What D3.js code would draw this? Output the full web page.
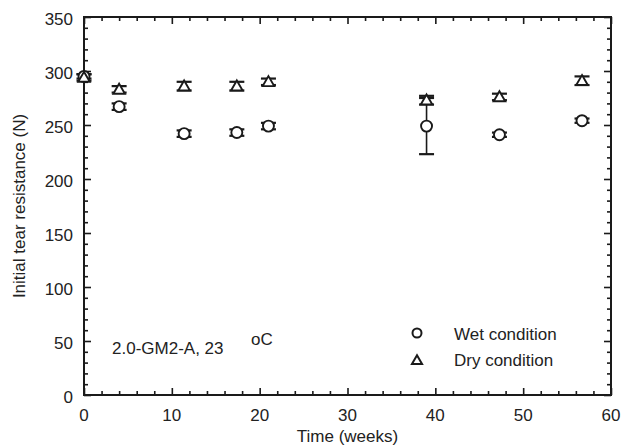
<!DOCTYPE html>
<html>
<head>
<meta charset="utf-8">
<script src="https://cdn.jsdelivr.net/npm/d3@7"></script>
<style>
  body { margin: 0; background: #fff; }
  svg text { font-family: "Liberation Sans", Arial, sans-serif; fill: #222; }
</style>
</head>
<body>
<svg id="chart" width="623" height="446"></svg>
<script>
// Ageing time (weeks) at each measurement
const weeks = [0, 4, 11.4, 17.4, 21, 39, 47.3, 56.7];
// Initial tear resistance (N), mean and standard deviation
const wetMean = [295, 267, 242, 243, 249, 249, 241, 254];
const wetErr  = [2, 3, 3, 3, 3, 26, 2, 2];
const dryMean = [294, 283, 286, 286, 290, 273, 276, 291];
const dryErr  = [3, 3, 4, 4, 3, 4, 3, 4];
const xTicks = [0, 10, 20, 30, 40, 50, 60];
const yTicks = [0, 50, 100, 150, 200, 250, 300, 350];
const seriesNames = ["Wet condition", "Dry condition"];

const svg = d3.select("#chart");
const plotL = 84, plotR = 611, plotT = 17, plotB = 395;
const fs = 17;

const x = d3.scaleLinear().domain([0, 60]).range([plotL, plotR]);
const y = d3.scaleLinear().domain([0, 350]).range([plotB, plotT]);

const ink = "#1a1a1a";
const g = svg.append("g");

// Inward ticks on all four sides
function tickAxis(axisFn, scale, transform, majors, minorStep, max) {
  const minors = d3.range(0, max + 0.001, minorStep).filter(v => !majors.includes(v));
  g.append("g").attr("transform", transform)
    .call(axisFn(scale).tickValues(minors).tickSize(-4).tickFormat(""))
    .call(s => s.select(".domain").remove());
  g.append("g").attr("transform", transform)
    .call(axisFn(scale).tickValues(majors).tickSize(-7).tickFormat(""))
    .call(s => s.select(".domain").remove());
}
tickAxis(d3.axisBottom, x, `translate(0,${plotB})`, xTicks, 2, 60);
tickAxis(d3.axisTop, x, `translate(0,${plotT})`, xTicks, 2, 60);
tickAxis(d3.axisLeft, y, `translate(${plotL},0)`, yTicks, 10, 350);
tickAxis(d3.axisRight, y, `translate(${plotR},0)`, yTicks, 10, 350);
g.selectAll(".tick line").attr("stroke", ink).attr("stroke-width", 1.6);

// Frame
g.append("rect").attr("x", plotL).attr("y", plotT)
  .attr("width", plotR - plotL).attr("height", plotB - plotT)
  .attr("fill", "none").attr("stroke", ink).attr("stroke-width", 2);

// Tick labels
g.selectAll(".xl").data(xTicks).enter().append("text")
  .attr("x", d => x(d)).attr("y", plotB + 26)
  .attr("text-anchor", "middle").attr("font-size", fs).text(d => d);
g.selectAll(".yl").data(yTicks).enter().append("text")
  .attr("x", plotL - 11).attr("y", d => y(d) + 8)
  .attr("text-anchor", "end").attr("font-size", fs).text(d => d);

// Axis titles
svg.append("text").attr("x", (plotL + plotR) / 2).attr("y", 442)
  .attr("text-anchor", "middle").attr("font-size", fs).text("Time (weeks)");
svg.append("text")
  .attr("transform", `translate(25,${(plotT + plotB) / 2}) rotate(-90)`)
  .attr("text-anchor", "middle").attr("font-size", fs)
  .text("Initial tear resistance (N)");

// Error bars and markers
const capHalf = 7.5;
function errorBars(means, errs) {
  const eg = g.append("g").attr("stroke", ink).attr("stroke-width", 1.6);
  weeks.forEach((w, i) => {
    const lo = y(means[i] - errs[i]), hi = y(means[i] + errs[i]);
    eg.append("line").attr("x1", x(w)).attr("x2", x(w)).attr("y1", lo).attr("y2", hi);
    [lo, hi].forEach(yy => eg.append("line")
      .attr("x1", x(w) - capHalf).attr("x2", x(w) + capHalf)
      .attr("y1", yy).attr("y2", yy).attr("stroke-width", 2.2));
  });
}
errorBars(wetMean, wetErr);
errorBars(dryMean, dryErr);

const tri = d3.symbol().type(d3.symbolTriangle).size(58);

g.selectAll(".wet").data(weeks).enter().append("circle")
  .attr("cx", d => x(d)).attr("cy", (d, i) => y(wetMean[i])).attr("r", 5.5)
  .attr("fill", "#fff").attr("stroke", ink).attr("stroke-width", 1.9);

g.selectAll(".dry").data(weeks).enter().append("path")
  .attr("d", tri)
  .attr("transform", (d, i) => `translate(${x(d)},${y(dryMean[i]) + 1})`)
  .attr("fill", "#fff").attr("stroke", ink).attr("stroke-width", 1.9);

// Legend
const lg = svg.append("g");
lg.append("circle").attr("cx", 417).attr("cy", 333).attr("r", 4.5)
  .attr("fill", "#fff").attr("stroke", ink).attr("stroke-width", 2);
lg.append("path").attr("d", d3.symbol().type(d3.symbolTriangle).size(44))
  .attr("transform", "translate(417,361)")
  .attr("fill", "#fff").attr("stroke", ink).attr("stroke-width", 2);
lg.selectAll("text").data(seriesNames).enter().append("text")
  .attr("x", 454).attr("y", (d, i) => 340 + i * 26)
  .attr("font-size", fs).text(d => d);

// Specimen annotation
svg.append("text").attr("x", 112).attr("y", 354).attr("font-size", fs)
  .text("2.0-GM2-A, 23");
svg.append("text").attr("x", 251).attr("y", 345).attr("font-size", fs)
  .text("oC");
</script>
</body>
</html>
